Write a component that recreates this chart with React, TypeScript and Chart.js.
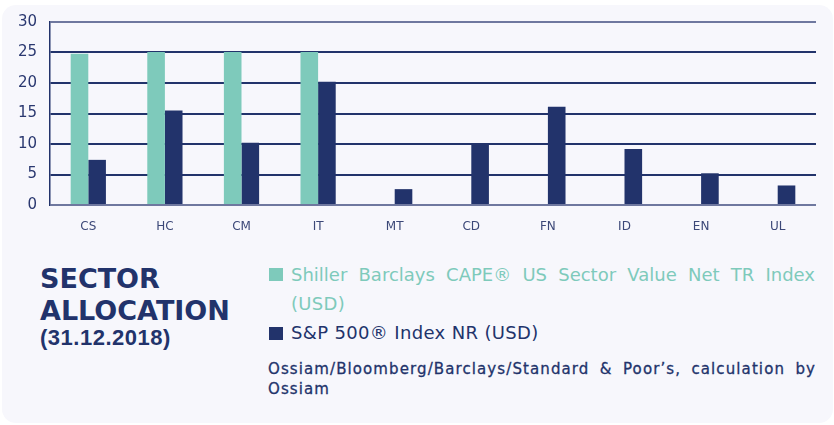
import React, { useEffect, useRef } from "react";
import { Chart, registerables } from "chart.js";

Chart.register(...registerables);

const CATEGORIES = ["CS", "HC", "CM", "IT", "MT", "CD", "FN", "ID", "EN", "UL"];
const SHILLER_VALUES = [24.8, 25.1, 25.1, 25.1, 0, 0, 0, 0, 0, 0];
const SP500_VALUES = [7.4, 15.5, 10.2, 20.2, 2.6, 9.9, 16.1, 9.2, 5.2, 3.2];
const SERIES_LABELS = [
  "Shiller Barclays CAPE® US Sector Value Net TR Index (USD)",
  "S&P 500® Index NR (USD)",
];
const Y_TICKS = [0, 5, 10, 15, 20, 25, 30];
const TITLE_LINES = ["SECTOR", "ALLOCATION"];
const TITLE_DATE = "(31.12.2018)";
const SOURCE_TEXT = "Ossiam/Bloomberg/Barclays/Standard & Poor’s, calculation by";
const SOURCE_TEXT_2 = "Ossiam";

const TEAL = "#7ecabb";
const NAVY = "#22336b";
const CARD = "#f7f7fc";

export default function App() {
  const ref = useRef<HTMLCanvasElement | null>(null);

  useEffect(() => {
    if (!ref.current) return;
    const chart = new Chart(ref.current, {
      type: "bar",
      data: {
        labels: CATEGORIES,
        datasets: [
          {
            label: SERIES_LABELS[0],
            data: SHILLER_VALUES,
            backgroundColor: TEAL,
            categoryPercentage: 0.46,
            barPercentage: 1.0,
          },
          {
            label: SERIES_LABELS[1],
            data: SP500_VALUES,
            backgroundColor: NAVY,
            categoryPercentage: 0.46,
            barPercentage: 1.0,
          },
        ],
      },
      options: {
        animation: false,
        responsive: false,
        layout: { padding: { left: 0, right: 18, top: 19, bottom: 0 } },
        plugins: {
          legend: { display: false },
          tooltip: { enabled: false },
        },
        scales: {
          x: {
            grid: { display: false, drawTicks: false },
            border: { display: false },
            ticks: {
              color: "#3c4878",
              font: { family: "DejaVu Sans", size: 12 },
              padding: 15,
            },
            afterFit: (scale: any) => {
              scale.height = 40;
            },
          },
          y: {
            min: 0,
            max: 30,
            afterBuildTicks: (scale: any) => {
              scale.ticks = Y_TICKS.map((v) => ({ value: v }));
            },
            grid: {
              drawTicks: false,
              color: (ctx: any) =>
                ctx.tick && (ctx.tick.value === 30 || ctx.tick.value === 0)
                  ? "#6f789f"
                  : NAVY,
              lineWidth: 2,
            },
            border: { display: true, color: NAVY, width: 1.5 },
            ticks: {
              color: "#2a3870",
              font: { family: "DejaVu Sans", size: 15 },
              padding: 13,
            },
            afterFit: (scale: any) => {
              scale.width = 50;
            },
          },
        },
      },
    });
    return () => chart.destroy();
  }, []);

  const firstLabel = SERIES_LABELS[0];
  const splitAt = firstLabel.lastIndexOf(" (");
  const l1a = firstLabel.slice(0, splitAt);
  const l1b = firstLabel.slice(splitAt + 1);

  const abs = (o: any): React.CSSProperties => ({ position: "absolute", whiteSpace: "nowrap", ...o });

  const sourceStyle = {
    fontFamily: "DejaVu Sans",
    fontWeight: 400,
    fontSize: 15,
    lineHeight: "15px",
    letterSpacing: 1.1,
    color: NAVY,
    WebkitTextStroke: "0.3px " + NAVY,
  };

  return (
    <div style={{ position: "absolute", left: 0, top: 0, width: 834, height: 425, background: "#ffffff", overflow: "hidden" }}>
      <div style={abs({ left: 2, top: 5, width: 831, height: 418, borderRadius: 14, background: CARD })} />
      <canvas ref={ref} width={834} height={245} style={abs({ left: 0, top: 0, width: 834, height: 245 })} />
      <div style={abs({ left: 40, top: 265, fontFamily: "DejaVu Sans", fontWeight: 700, fontSize: 27, lineHeight: "27px", color: NAVY })}>
        {TITLE_LINES[0]}
      </div>
      <div style={abs({ left: 40, top: 297, fontFamily: "DejaVu Sans", fontWeight: 700, fontSize: 27, lineHeight: "27px", color: NAVY })}>
        {TITLE_LINES[1]}
      </div>
      <div style={abs({ left: 40, top: 327, fontFamily: "Liberation Sans", fontWeight: 700, fontSize: 22, lineHeight: "22px", letterSpacing: 0.5, color: NAVY })}>
        {TITLE_DATE}
      </div>

      <div style={abs({ left: 269, top: 268, width: 14, height: 13, background: TEAL })} />
      <div style={abs({ left: 291, top: 266, width: 524, fontFamily: "DejaVu Sans", fontSize: 18, lineHeight: "18px", color: TEAL, textAlign: "justify", textAlignLast: "justify", whiteSpace: "normal" })}>
        {l1a}
      </div>
      <div style={abs({ left: 291, top: 295, fontFamily: "DejaVu Sans", fontSize: 18, lineHeight: "18px", letterSpacing: 0.3, color: TEAL })}>
        {l1b}
      </div>
      <div style={abs({ left: 269, top: 327, width: 14, height: 13, background: NAVY })} />
      <div style={abs({ left: 291, top: 324, fontFamily: "DejaVu Sans", fontSize: 18, lineHeight: "18px", letterSpacing: 0.35, color: NAVY })}>
        {SERIES_LABELS[1]}
      </div>

      <div style={abs({ left: 268, top: 362, width: 548, textAlign: "justify", textAlignLast: "justify", whiteSpace: "normal", ...sourceStyle })}>
        {SOURCE_TEXT}
      </div>
      <div style={abs({ left: 268, top: 382, ...sourceStyle })}>
        {SOURCE_TEXT_2}
      </div>
    </div>
  );
}
